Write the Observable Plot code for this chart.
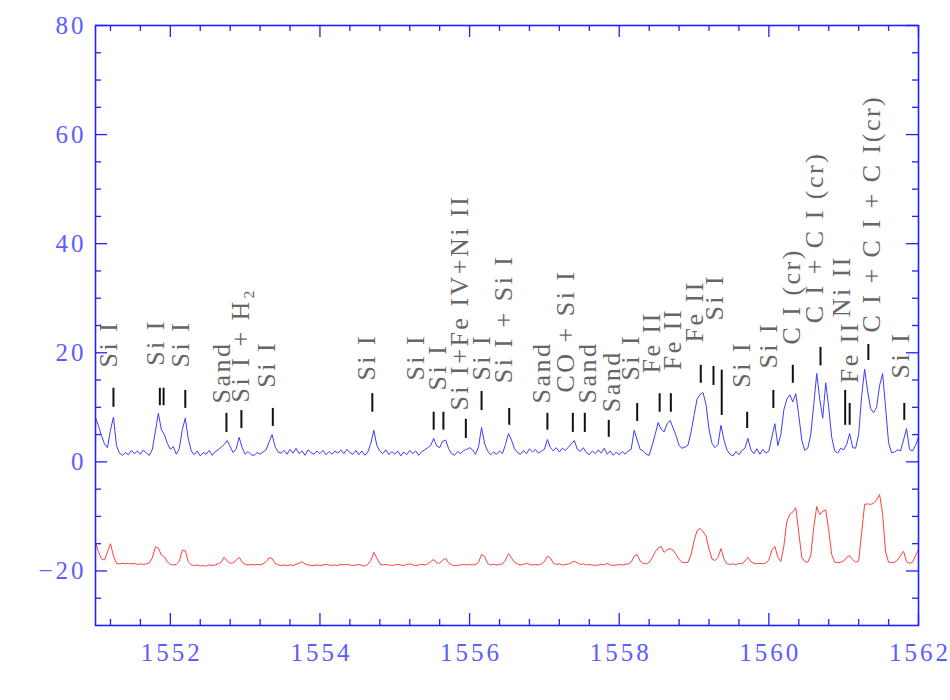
<!DOCTYPE html>
<html><head><meta charset="utf-8">
<script src="https://cdn.jsdelivr.net/npm/d3@7"></script>
<script src="https://cdn.jsdelivr.net/npm/@observablehq/plot@0.6"></script>
<style>
body{margin:0;background:#fff;}
</style>
</head><body><div id="chart"></div>
<script>
// wavelength grid of the spectra (Angstrom): start and step
const gridStart = 1551.0;
const gridStep = 0.04;

// upper (blue) spectrum, one value per grid point
const blueFlux = [
 8.1,6.6,4.8,3.3,2.6,5.8,8.2,3.0,1.6,1.2,
 1.7,1.3,2.1,1.5,2.0,1.4,2.2,1.6,1.2,2.3,
 5.6,8.9,5.9,5.0,3.4,2.3,2.8,1.4,2.4,5.9,
 8.0,4.2,2.0,1.3,2.0,1.1,1.7,1.4,2.1,1.2,
 1.9,2.2,2.7,3.2,3.9,2.8,1.7,2.4,4.5,2.6,
 1.4,1.9,1.3,1.2,1.7,1.4,1.8,2.2,3.6,5.0,
 2.8,1.8,1.6,2.1,1.4,2.3,1.6,2.5,1.5,2.0,
 1.2,2.2,1.7,1.4,2.0,1.5,2.1,1.3,1.9,1.4,
 2.0,1.6,2.2,1.5,2.3,1.7,1.4,2.1,1.3,2.0,
 1.2,1.8,3.4,5.8,3.0,2.0,1.5,2.2,1.3,1.9,
 1.4,2.0,1.1,1.8,1.3,2.1,1.5,2.0,1.2,1.9,
 2.2,2.6,3.0,4.3,2.9,2.6,3.8,4.0,2.4,1.5,
 1.2,1.9,1.5,2.1,2.3,2.6,2.2,1.4,2.8,6.3,
 3.4,2.0,1.3,1.8,1.4,2.0,1.5,3.2,5.2,4.0,
 2.4,1.7,1.4,2.1,1.5,2.4,1.8,2.3,1.6,2.0,
 2.3,4.1,2.6,2.0,2.6,1.8,2.5,2.1,2.7,3.3,
 3.9,2.3,1.9,2.6,1.7,1.3,2.0,1.5,2.2,1.6,
 2.5,1.4,2.0,1.2,1.8,1.3,1.9,1.4,2.0,2.3,
 5.8,4.0,2.3,2.0,1.4,1.2,3.0,5.0,7.2,6.0,
 5.5,7.0,7.6,6.2,4.8,3.0,2.5,2.7,3.1,5.5,
 8.5,11.5,12.3,12.7,10.5,6.0,3.4,2.6,3.2,6.7,
 4.0,2.2,1.4,1.1,1.9,1.3,2.1,2.5,4.3,2.2,
 1.5,2.4,1.4,2.3,1.6,2.0,4.5,7.0,3.0,5.0,
 9.5,11.5,12.3,11.0,12.5,8.5,4.0,2.1,2.5,5.0,
 10.5,16.2,11.5,8.0,14.5,10.0,4.5,2.0,1.6,2.5,
 2.2,3.2,5.2,2.6,2.5,5.0,12.0,17.0,13.0,9.8,
 9.0,10.0,14.0,16.2,10.0,3.5,1.7,1.8,2.2,2.0,
 4.0,6.1,2.3,2.0,3.0,4.5
];

// lower (red) spectrum, one value per grid point
const redFlux = [
 -14.7,-16.5,-17.8,-18.0,-16.5,-15.0,-17.2,-18.6,-18.7,-18.6,
 -18.7,-18.6,-18.7,-18.6,-18.8,-18.7,-18.8,-18.7,-18.5,-17.6,
 -15.6,-15.8,-17.1,-17.4,-18.3,-18.8,-18.9,-18.8,-18.2,-16.2,
 -16.3,-18.3,-18.9,-19.0,-18.9,-19.1,-19.0,-19.1,-18.9,-19.0,
 -18.9,-18.7,-18.4,-17.5,-18.2,-18.6,-18.5,-18.0,-17.5,-18.4,
 -18.8,-18.9,-18.8,-18.9,-18.8,-18.9,-18.7,-18.3,-17.6,-17.7,
 -18.6,-18.9,-19.0,-18.9,-19.0,-18.9,-19.0,-18.8,-18.6,-18.3,
 -18.7,-18.9,-19.0,-19.0,-18.9,-19.0,-18.9,-18.8,-18.9,-19.0,
 -18.9,-19.0,-18.8,-18.9,-18.8,-18.9,-19.0,-18.9,-18.8,-19.0,
 -19.1,-18.8,-18.1,-16.6,-17.6,-18.7,-18.9,-18.8,-18.9,-19.0,
 -18.9,-18.8,-18.9,-19.0,-18.8,-18.7,-18.9,-19.0,-18.9,-18.8,
 -18.9,-18.7,-18.3,-17.9,-18.5,-18.6,-18.0,-17.7,-18.5,-18.9,
 -19.0,-19.0,-18.9,-18.8,-18.9,-18.8,-18.9,-18.8,-18.4,-17.0,
 -17.3,-18.6,-18.9,-18.8,-18.9,-18.8,-18.7,-18.0,-16.8,-17.6,
 -18.4,-18.7,-18.9,-18.8,-18.6,-18.8,-18.9,-18.8,-18.9,-18.7,
 -18.3,-17.3,-17.6,-18.6,-18.8,-18.7,-18.9,-18.8,-18.7,-18.5,
 -18.2,-18.5,-18.8,-18.7,-18.9,-18.8,-18.9,-19.0,-18.9,-18.8,
 -18.9,-18.6,-18.9,-19.0,-18.9,-18.8,-18.9,-18.8,-18.7,-18.4,
 -17.3,-17.0,-18.2,-18.6,-18.7,-18.4,-17.6,-16.5,-15.8,-15.5,
 -16.6,-16.1,-15.9,-16.2,-17.0,-17.9,-18.4,-18.5,-18.4,-17.0,
 -14.5,-12.6,-12.2,-12.8,-13.6,-16.0,-17.8,-18.1,-17.5,-15.9,
 -17.8,-18.7,-18.8,-18.7,-18.9,-18.6,-18.7,-18.2,-17.5,-18.3,
 -18.6,-18.7,-18.6,-18.7,-18.5,-18.0,-16.2,-15.5,-17.5,-18.3,
 -15.5,-11.0,-9.6,-9.2,-8.4,-13.0,-17.5,-18.3,-18.4,-17.2,
 -12.0,-8.2,-9.7,-9.0,-8.8,-12.5,-17.0,-18.4,-18.5,-18.4,
 -18.2,-17.5,-17.2,-17.9,-18.4,-18.2,-13.0,-7.8,-7.7,-7.8,
 -7.6,-7.0,-6.0,-9.5,-16.5,-18.4,-18.5,-18.4,-18.0,-17.2,
 -16.4,-18.3,-18.6,-18.4,-17.2,-16.1
];

// line identifications: text, wavelength of text, flux at text start
const idText = ["Si I","Si I","Si I","Sand","Si I + H\u2082","Si I","Si I","Si I","Si I",
 "Si I+Fe IV+Ni II","Si I","Si I + Si I","Sand","CO + Si I","Sand","Sand","Si I",
 "Fe II","Fe II","Fe II","Si I","Si I","Si I","C I (cr)","C I + C I (cr)","Ni II","Fe II",
 "C I + C I + C I(cr)","Si I"];
const idWave = [1551.17,1551.80,1552.14,1552.68,1552.94,1553.29,1554.62,1555.28,1555.58,
 1555.87,1556.16,1556.45,1556.97,1557.28,1557.58,1557.90,1558.15,
 1558.44,1558.71,1559.01,1559.27,1559.63,1560.00,1560.30,1560.61,1560.97,1561.08,
 1561.37,1561.76];
const idBase = [17.3,17.6,17.3,10.7,10.9,13.6,14.9,14.9,13.1,
 9.4,14.9,14.4,10.7,12.7,10.7,9.1,14.9,
 16.2,16.8,21.9,25.9,13.6,17.1,21.5,25.4,26.5,14.4,
 23.7,15.3];

// identification marks: wavelength, lower and upper flux
const markWave = [1551.24,1551.86,1551.91,1552.20,1552.75,1552.95,1553.37,1554.70,1555.52,1555.65,
 1555.95,1556.16,1556.53,1557.04,1557.38,1557.54,1557.86,1558.24,1558.54,1558.69,
 1559.09,1559.26,1559.37,1559.71,1560.06,1560.32,1560.69,1561.02,1561.08,1561.33,1561.81];
const markLo = [10.0,10.3,10.3,9.8,5.4,6.1,6.5,9.1,5.8,5.8,
 4.3,9.4,6.7,5.8,5.4,5.4,4.5,7.4,9.1,9.1,
 14.4,14.0,8.5,6.1,9.8,14.4,17.6,6.7,6.7,18.6,7.6];
const markHi = [13.5,13.5,13.5,13.1,8.9,9.4,9.8,12.5,9.1,9.1,
 7.8,12.9,9.8,8.9,8.9,8.9,7.6,10.7,12.5,12.5,
 17.7,17.5,16.8,9.1,13.1,17.7,21.0,13.1,10.7,21.5,10.7];

// axis ticks
const xMajor = [1552,1554,1556,1558,1560,1562];
const xMinor = [1551.2,1551.6,1552.4,1552.8,1553.2,1553.6,1554.4,1554.8,1555.2,1555.6,
 1556.4,1556.8,1557.2,1557.6,1558.4,1558.8,1559.2,1559.6,1560.4,1560.8,1561.2,1561.6];
const yMajor = [-20,0,20,40,60,80];
const yMinor = [-25,-15,-10,-5,5,10,15,25,30,35,45,50,55,65,70,75];

const blue = blueFlux.map((f,i)=>({w: gridStart + i*gridStep, f}));
const red = redFlux.map((f,i)=>({w: gridStart + i*gridStep, f}));
const ids = idText.map((t,i)=>({t, w: idWave[i], b: idBase[i]}));
const marks = markWave.map((w,i)=>({w, lo: markLo[i], hi: markHi[i]}));

const axisCol = "#2020ff";
const labCol = "#5c5cff";
const W = 950, H = 700, mL = 95, mR = 32, mT = 25, mB = 75;
const fw = W - mL - mR, fh = H - mT - mB;
const serif = "Liberation Serif, Times New Roman, serif";

const chart = Plot.plot({
  width: W, height: H,
  marginLeft: mL, marginRight: mR, marginTop: mT, marginBottom: mB,
  style: {background: "#fff", overflow: "visible"},
  x: {domain: [1551, 1562], axis: null},
  y: {domain: [-30, 80], axis: null},
  marks: [
    Plot.line(red, {x: "w", y: "f", stroke: "#ff4040", strokeWidth: 1}),
    Plot.line(blue, {x: "w", y: "f", stroke: "#3c3cff", strokeWidth: 1}),
    Plot.ruleX(marks, {x: "w", y1: "lo", y2: "hi", stroke: "#111", strokeWidth: 2}),
    Plot.text(ids, {x: "w", y: "b", text: "t", rotate: -90, textAnchor: "start",
      fontSize: 26, fontFamily: serif, fill: "#666"}),
    // inward ticks on all four sides
    Plot.tickX(xMajor, {x: d => d, insetTop: fh - 12, stroke: axisCol, strokeWidth: 1.3}),
    Plot.tickX(xMajor, {x: d => d, insetBottom: fh - 12, stroke: axisCol, strokeWidth: 1.3}),
    Plot.tickX(xMinor, {x: d => d, insetTop: fh - 6, stroke: axisCol, strokeWidth: 1.3}),
    Plot.tickX(xMinor, {x: d => d, insetBottom: fh - 6, stroke: axisCol, strokeWidth: 1.3}),
    Plot.tickY(yMajor, {y: d => d, insetRight: fw - 12, stroke: axisCol, strokeWidth: 1.3}),
    Plot.tickY(yMajor, {y: d => d, insetLeft: fw - 12, stroke: axisCol, strokeWidth: 1.3}),
    Plot.tickY(yMinor, {y: d => d, insetRight: fw - 6, stroke: axisCol, strokeWidth: 1.3}),
    Plot.tickY(yMinor, {y: d => d, insetLeft: fw - 6, stroke: axisCol, strokeWidth: 1.3}),
    Plot.frame({stroke: axisCol, strokeWidth: 1.6}),
    Plot.text(xMajor, {x: d => d, frameAnchor: "bottom", dy: 35, dx: 1.5, text: d => String(d),
      fontSize: 25, fontFamily: serif, fill: labCol}),
    Plot.text(yMajor, {y: d => d, frameAnchor: "left", dx: -9, textAnchor: "end",
      text: d => d < 0 ? "\u2212" + Math.abs(d) : String(d),
      fontSize: 25, fontFamily: serif, fill: labCol})
  ]
});
// widen the glyph spacing of the text marks (label font is a wide stroke font)
const textGroups = chart.querySelectorAll('g[aria-label="text"]');
if (textGroups[0]) textGroups[0].style.letterSpacing = "2.5px";
if (textGroups[1]) textGroups[1].style.letterSpacing = "3px";
if (textGroups[2]) textGroups[2].style.letterSpacing = "3px";
document.getElementById("chart").appendChild(chart);
</script>
</body></html>
